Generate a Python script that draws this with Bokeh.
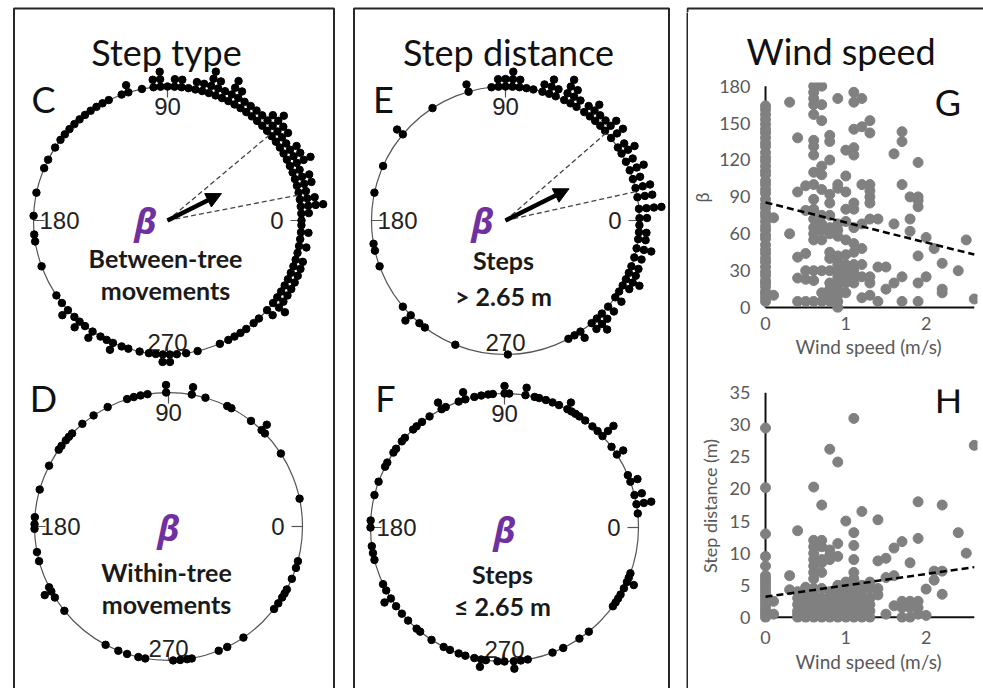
import math
from bokeh.plotting import figure
from bokeh.layouts import row, column, Spacer
from bokeh.models import Range1d, Arrow, NormalHead, FixedTicker
from bokeh.core.properties import value
from bokeh.embed import file_html
from bokeh.resources import INLINE

# ---------------- data: circular dot plots (angle in degrees, stacked count) ----------------
c_deg = [0, 3, 6, 9, 12, 15, 18, 21, 24, 27, 30, 33, 36, 39, 42, 45, 48, 51, 54, 57,
         60, 63, 66, 69, 72, 75, 78, 81, 84, 87, 90, 93, 96, 101, 107, 110, 116, 119, 122, 125,
         128, 131, 134, 137, 140, 143, 147, 153, 157, 168, 178, 186, 189, 200, 214, 218, 222, 226, 229, 232,
         236, 240, 243, 246, 250, 253, 258, 262, 265, 268, 271, 274, 278, 283, 293, 297, 300, 303, 306, 310,
         313, 318, 322, 325, 328, 331, 334, 337, 340, 343, 346, 349, 352, 355, 358]
c_cnt = [1, 2, 4, 3, 2, 3, 3, 2, 4, 3, 3, 2, 3, 3, 4, 3, 2, 2, 2, 2,
         3, 4, 2, 3, 4, 2, 2, 1, 2, 2, 1, 3, 2, 1, 2, 1, 1, 1, 1, 1,
         1, 1, 1, 1, 1, 1, 1, 1, 1, 1, 1, 1, 1, 1, 1, 1, 2, 1, 2, 1,
         2, 1, 1, 2, 1, 1, 1, 1, 1, 2, 2, 1, 1, 1, 1, 1, 1, 1, 1, 1,
         1, 2, 3, 2, 2, 2, 2, 2, 2, 2, 1, 2, 1, 2, 1]

d_deg = [12, 33, 44, 46, 52, 62, 64, 74, 80, 91, 99, 102, 105, 108, 117, 124, 130, 136, 138, 140,
         143, 145, 153, 164, 176, 179, 181, 191, 195, 207, 209, 212, 219, 242, 248, 252, 257, 260, 272, 275,
         278, 280, 292, 296, 304, 322, 325, 328, 330, 332, 337, 342, 345]
d_cnt = [1, 1, 1, 2, 1, 1, 1, 1, 2, 2, 1, 1, 1, 1, 1, 1, 1, 1, 1, 1,
         1, 1, 1, 1, 1, 1, 1, 1, 1, 1, 2, 1, 1, 1, 1, 1, 1, 1, 1, 1,
         1, 1, 1, 1, 1, 1, 1, 1, 1, 1, 1, 1, 1]

e_deg = [1, 5, 10, 14, 18, 22, 26, 30, 33, 38, 42, 45, 48, 51, 54, 58, 61, 64, 68, 71,
         74, 78, 81, 84, 87, 90, 93, 96, 106, 123, 140, 156, 168, 190, 193, 200, 220, 225, 230, 233,
         248, 271, 298, 301, 304, 310, 313, 316, 320, 325, 328, 331, 334, 337, 340, 344, 348, 352, 355, 358]
e_cnt = [2, 4, 3, 3, 2, 3, 2, 3, 2, 3, 3, 2, 2, 3, 2, 2, 3, 4, 2, 3,
         2, 1, 1, 2, 3, 2, 2, 1, 2, 1, 2, 1, 1, 1, 1, 1, 1, 2, 1, 1,
         1, 1, 1, 1, 2, 2, 3, 2, 2, 2, 1, 2, 3, 2, 2, 2, 3, 2, 2, 1]

f_deg = [6, 10, 14, 20, 23, 33, 37, 43, 46, 49, 53, 56, 58, 60, 62, 66, 69, 72, 75, 77,
         81, 88, 90, 95, 97, 100, 103, 107, 110, 116, 118, 124, 128, 131, 133, 138, 140, 144, 146, 151,
         153, 160, 166, 177, 180, 188, 191, 194, 205, 208, 212, 216, 220, 224, 229, 231, 237, 243, 246, 250,
         253, 257, 260, 262, 267, 270, 274, 277, 280, 291, 296, 304, 309, 324, 326, 328, 330, 333, 336, 338,
         340]
f_cnt = [1, 3, 2, 2, 1, 2, 1, 3, 1, 1, 1, 1, 1, 1, 2, 1, 1, 1, 1, 1,
         2, 1, 2, 1, 1, 1, 1, 2, 1, 1, 2, 1, 1, 1, 1, 1, 1, 1, 1, 1,
         1, 1, 1, 1, 1, 1, 1, 1, 1, 1, 2, 1, 1, 1, 1, 1, 1, 1, 1, 1,
         1, 1, 2, 1, 1, 1, 2, 1, 1, 1, 1, 1, 1, 1, 1, 1, 1, 1, 2, 1,
         1]

# mean direction, resultant length, 95% CI bounds
c_mean, c_rho, c_ci = 26.5, 0.45, (11.0, 40.0)
e_mean, e_rho, e_ci = 26.5, 0.53, (12.5, 41.0)

dir_ticks = [0, 90, 180, 270]

# ---------------- data: scatter plots ----------------
wind_levels = [0.0, 0.1, 0.3, 0.4, 0.5, 0.6, 0.7, 0.8, 0.9, 1.0, 1.1, 1.2, 1.3, 1.4, 1.5, 1.6,
               1.7, 1.8, 1.9, 2.0, 2.1, 2.2, 2.4, 2.5, 2.6]
g_beta = [
    [5, 8, 11, 13, 17, 20, 22, 26, 29, 33, 37, 40, 44, 47, 51, 56, 59, 63, 66, 70, 74, 77, 81, 84,
     88, 93, 96, 100, 103, 108, 111, 115, 119, 122, 126, 131, 134, 138, 142, 145, 149, 153, 157, 161, 164],
    [10, 73],
    [167, 60],
    [138, 94, 41, 24, 5],
    [99, 79, 44, 30, 23, 5],
    [180, 175, 170, 165, 157, 136, 131, 124, 110, 100, 88, 80, 72, 65, 60, 55, 30, 22, 5],
    [180, 165, 152, 115, 108, 96, 75, 68, 63, 55, 30, 12, 5],
    [140, 135, 120, 92, 85, 75, 65, 60, 45, 40, 30, 20, 15, 10, 5],
    [170, 100, 97, 68, 63, 58, 42, 38, 35, 30, 25, 20, 15, 10, 5, 0],
    [128, 107, 94, 80, 70, 55, 43, 35, 30, 25, 20, 12],
    [175, 167, 145, 130, 124, 85, 80, 65, 52, 45, 35, 30, 25, 20],
    [170, 147, 100, 68, 48, 35, 25, 8],
    [152, 142, 100, 95, 90, 85, 72, 25, 20, 10],
    [72, 33, 5],
    [33, 15],
    [125, 68, 20],
    [143, 135, 100, 25, 5],
    [72, 62, 90],
    [118, 90, 87, 82, 42, 20, 5],
    [57, 25],
    [48],
    [36, 15, 12],
    [30],
    [55],
    [7],
]
h_dist = [
    [29.5, 20.2, 13.0, 9.5, 8.0, 6.5, 6.0, 5.5, 5.0, 4.5, 4.0, 3.5, 3.0, 2.5, 2.0, 1.5, 1.0, 0.5, 0.0],
    [2.5, 0.5],
    [6.5, 4.3],
    [13.5, 4.0, 3.0, 2.0, 1.0, 0.5, 0.0],
    [4.7, 4.0, 3.0, 2.0, 1.0, 0.0],
    [20.3, 12.0, 11.0, 10.0, 9.0, 8.0, 7.0, 6.0, 4.5, 3.5, 2.5, 1.5, 0.5, 0.0],
    [17.5, 12.0, 11.0, 9.0, 8.5, 7.0, 4.5, 3.0, 2.0, 1.0, 0.0],
    [26.2, 10.5, 9.7, 9.0, 4.0, 3.0, 2.0, 1.0, 0.0],
    [24.2, 11.5, 9.5, 5.0, 4.0, 3.0, 2.0, 1.0, 0.0],
    [15.0, 5.5, 4.0, 3.0, 2.0, 1.0, 0.0],
    [31.0, 13.2, 11.2, 9.0, 7.0, 6.0, 5.0, 4.0, 3.0, 2.0, 1.0, 0.0],
    [16.5, 5.0, 4.0, 3.0, 2.0, 1.0, 0.0],
    [5.5, 4.5, 3.0, 2.0, 1.0, 0.0],
    [15.2, 8.8, 4.5, 3.5],
    [9.2, 6.2, 0.5],
    [10.8, 6.5, 1.8],
    [11.8, 2.5, 1.5, 0.0],
    [8.5, 2.5, 1.5, 0.0],
    [18.0, 12.3, 2.5, 1.5, 0.5],
    [4.4, 0.3],
    [5.8, 7.2],
    [17.5, 7.2, 3.6],
    [13.2],
    [10.0],
    [26.8],
]
g_fit = (85.5, -16.3)   # intercept, slope
h_fit = (3.2, 1.78)
fit_xmax = 2.6
g_yticks = [0, 30, 60, 90, 120, 150, 180]
h_yticks = [0, 5, 10, 15, 20, 25, 30, 35]
x_ticks = [0, 1, 2]

# ---------------- styling ----------------
R = 134
STEP = 7.5
BORDER = "#262626"
RING = "#555555"
PURPLE = "#7030A0"
GREY_DOT = "#808080"
TICK_TXT = "#595959"
SANS = value("Lato")
ARIAL = value("Liberation Sans")


def base_fig(w, h, xr, yr, bg="white"):
    p = figure(width=w, height=h, x_range=Range1d(*xr), y_range=Range1d(*yr),
               output_backend="svg", toolbar_location=None, tools="", min_border=0,
               x_axis_location=None, y_axis_location=None)
    p.xgrid.grid_line_color = None
    p.ygrid.grid_line_color = None
    p.outline_line_color = None
    p.background_fill_color = bg
    p.border_fill_color = bg
    return p


def ring_panel(p, cx, cy, deg, cnt, letter, lxy, beta_xy, lines, line_ys, mean=None, rho=None, ci=None):
    p.circle(x=[cx], y=[cy], radius=R, fill_color=None, line_color=RING, line_width=1.2)
    # direction ticks
    x0 = [cx + R * math.cos(math.radians(a)) for a in dir_ticks]
    y0 = [cy - R * math.sin(math.radians(a)) for a in dir_ticks]
    x1 = [cx + (R - 11) * math.cos(math.radians(a)) for a in dir_ticks]
    y1 = [cy - (R - 11) * math.sin(math.radians(a)) for a in dir_ticks]
    p.segment(x0=x0, y0=y0, x1=x1, y1=y1, line_color=RING, line_width=1.2)
    fs = "24px"
    p.text(x=[cx], y=[cy - R + 11], text=[str(dir_ticks[1])], text_align="center", text_baseline="top",
           text_font=ARIAL, text_font_size=fs, text_color="#222222")
    p.text(x=[cx + R - 18], y=[cy], text=[str(dir_ticks[0])], text_align="right", text_baseline="middle",
           text_font=ARIAL, text_font_size=fs, text_color="#222222")
    p.text(x=[cx - R + 6], y=[cy], text=[str(dir_ticks[2])], text_align="left", text_baseline="middle",
           text_font=ARIAL, text_font_size=fs, text_color="#222222")
    p.text(x=[cx], y=[cy + R - 4], text=[str(dir_ticks[3])], text_align="center", text_baseline="bottom",
           text_font=ARIAL, text_font_size=fs, text_color="#222222")
    # stacked dots
    xs, ys = [], []
    for a, n in zip(deg, cnt):
        for k in range(n):
            rr = R + k * STEP
            xs.append(cx + rr * math.cos(math.radians(a)))
            ys.append(cy - rr * math.sin(math.radians(a)))
    p.scatter(x=xs, y=ys, size=7.5, color="black")
    # mean vector and CI
    if mean is not None:
        p.segment(x0=[cx, cx], y0=[cy, cy],
                  x1=[cx + R * math.cos(math.radians(a)) for a in ci],
                  y1=[cy - R * math.sin(math.radians(a)) for a in ci],
                  line_color="#444444", line_width=1.3, line_dash="5 3")
        L = rho * R
        p.add_layout(Arrow(end=NormalHead(size=15, fill_color="black", line_color="black", line_width=1),
                           x_start=cx, y_start=cy,
                           x_end=cx + L * math.cos(math.radians(mean)),
                           y_end=cy - L * math.sin(math.radians(mean)),
                           line_color="black", line_width=4.5))
    # texts
    p.text(x=[lxy[0]], y=[lxy[1]], text=[letter], text_align="center", text_baseline="middle",
           text_font=SANS, text_font_size="36px", text_color="#111111")
    p.text(x=[beta_xy[0]], y=[beta_xy[1]], text=["β"], text_align="center", text_baseline="middle",
           text_font=value("Noto Sans"), text_font_style="bold italic", text_font_size="36px",
           text_color=PURPLE)
    for t, yy in zip(lines, line_ys):
        p.text(x=[cx - 2], y=[yy], text=[t], text_align="center", text_baseline="middle",
               text_font=SANS, text_font_style="bold", text_font_size="25px", text_color="#1a1a1a")


def box_lines(p, x0, x1, y0, y1):
    p.line(x=[x0, x0, x1, x1], y=[y1, y0, y0, y1], line_color=BORDER, line_width=2)


# ---------------- left box: step type ----------------
pl = base_fig(324, 688, (12, 336), (688, 0))
box_lines(pl, 13.5, 333.5, 8, 690)
pl.text(x=[166], y=[51], text=["Step type"], text_align="center", text_baseline="alphabetic",
        text_font=SANS, text_font_size="36px", text_color="#111111")
ring_panel(pl, 167, 220, c_deg, c_cnt, "C", (43, 98), (145, 220),
           ["Between-tree", "movements"], [257, 289], c_mean, c_rho, c_ci)
ring_panel(pl, 168, 526, d_deg, d_cnt, "D", (43, 397), (168, 527),
           ["Within-tree", "movements"], [571, 603])

# ---------------- middle box: step distance ----------------
pm = base_fig(320, 688, (351, 671), (688, 0))
box_lines(pm, 353.5, 668.5, 8, 690)
pm.text(x=[508], y=[51], text=["Step distance"], text_align="center", text_baseline="alphabetic",
        text_font=SANS, text_font_size="36px", text_color="#111111")
ring_panel(pm, 505, 220, e_deg, e_cnt, "E", (383, 98), (482, 220),
           ["Steps", "> 2.65 m"], [259, 295], e_mean, e_rho, e_ci)
ring_panel(pm, 504, 527, f_deg, f_cnt, "F", (385, 397), (504, 529),
           ["Steps", "≤ 2.65 m"], [573, 605])

# ---------------- right box: wind speed ----------------
TOP = 12
strip = base_fig(297, TOP, (686, 983), (TOP, 0))
strip.line(x=[687, 687, 990], y=[TOP + 4, 8, 8], line_color=BORDER, line_width=2)
bar_v = base_fig(2, 688 - TOP, (0, 1), (0, 1), bg=BORDER)


def scatter_fig(h, yr, mb_top, mb_bottom, yticks, ylabel, ystand, vals, fit, ytop, letter_xy, letter,
                xstand, lstand):
    p = figure(width=295, height=h, x_range=Range1d(-0.075, 2.64), y_range=Range1d(*yr),
               output_backend="svg", toolbar_location=None, tools="",
               min_border_left=69, min_border_right=6, min_border_top=mb_top, min_border_bottom=mb_bottom)
    p.xgrid.grid_line_color = None
    p.ygrid.grid_line_color = None
    p.outline_line_color = None
    p.xaxis.ticker = FixedTicker(ticks=x_ticks)
    p.yaxis.ticker = FixedTicker(ticks=yticks)
    for ax in (p.xaxis[0], p.yaxis[0]):
        ax.axis_line_color = None
        ax.major_tick_line_color = None
        ax.minor_tick_line_color = None
        ax.major_tick_out = 0
        ax.major_tick_in = 0
        ax.minor_tick_out = 0
        ax.minor_tick_in = 0
        ax.major_label_text_font = "Lato"
        ax.major_label_text_font_size = "18px"
        ax.major_label_text_color = TICK_TXT
        ax.axis_label_text_font = "Lato"
        ax.axis_label_text_font_style = "normal"
        ax.axis_label_text_color = TICK_TXT
    p.xaxis.axis_label = "Wind speed (m/s)"
    p.xaxis.axis_label_text_font_size = "19px"
    p.xaxis.major_label_standoff = xstand
    p.xaxis.axis_label_standoff = lstand
    p.yaxis.axis_label = ylabel
    p.yaxis.axis_label_text_font_size = "18px"
    p.yaxis.major_label_standoff = 9
    p.yaxis.axis_label_standoff = ystand
    # axis lines
    p.segment(x0=[0, 0], y0=[0, 0], x1=[0, fit_xmax], y1=[ytop, 0], line_color="#111111", line_width=2)
    xs, ys = [], []
    for w, lst in zip(wind_levels, vals):
        for v in lst:
            xs.append(w)
            ys.append(v)
    p.scatter(x=xs, y=ys, size=10, color=GREY_DOT)
    p.line(x=[0, fit_xmax], y=[fit[0], fit[0] + fit[1] * fit_xmax], line_color="black",
           line_width=2.5, line_dash="7 4")
    p.text(x=[letter_xy[0]], y=[letter_xy[1]], text=[letter], text_align="center", text_baseline="middle",
           text_font=SANS, text_font_size="36px", text_color="#111111")
    return p


pg = scatter_fig(370 - TOP, (-4, 183), 82 - TOP, 58, g_yticks, "β", 3, g_beta, g_fit, 180,
                 (2.27, 167), "G", 4, 2)
pg.title.text = "Wind speed"
pg.title.align = "left"
pg.title.offset = -13
pg.title.standoff = 20
pg.title.text_font = "Lato"
pg.title.text_font_style = "normal"
pg.title.text_font_size = "36px"
pg.title.text_color = "#111111"

ph = scatter_fig(318, (-0.8, 35.5), 19, 66, h_yticks, "Step distance (m)", 6, h_dist, h_fit, 35,
                 (2.28, 34.0), "H", 8, 3)

right = column(strip, row(bar_v, column(pg, ph)))
layout = row(Spacer(width=12, height=688), pl, Spacer(width=15, height=688), pm,
             Spacer(width=15, height=688), right)

open("out.html", "w").write(file_html(layout, INLINE))
